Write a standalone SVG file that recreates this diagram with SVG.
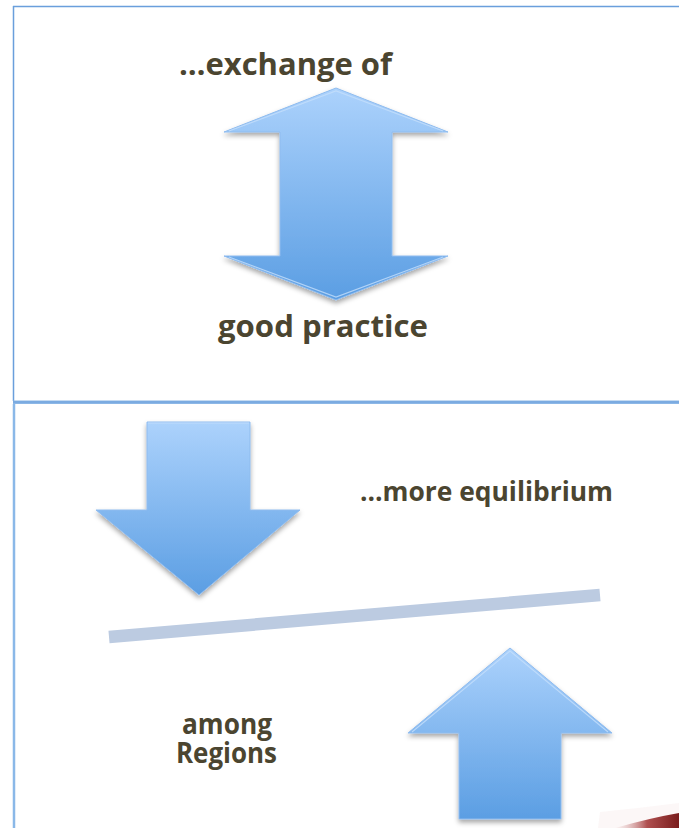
<svg xmlns="http://www.w3.org/2000/svg" width="679" height="828" viewBox="0 0 679 828">
<style>
.lbl{font-family:"Open Sans","Liberation Sans",sans-serif;font-weight:700;fill:#4b4530}
.arrow{fill:url(#blue);stroke:#8fbcef;stroke-width:1;filter:url(#shadow)}
.bevel{fill:none;stroke:#c4defb;stroke-width:1.2;opacity:0.8}
.frame{stroke:#6a9fdc;fill:none}
</style>
<defs>
<linearGradient id="blue" x1="0" y1="0" x2="0" y2="1">
<stop offset="0" stop-color="#acd2fc"/>
<stop offset="1" stop-color="#5b9ee3"/>
</linearGradient>
<linearGradient id="red" x1="0" y1="0" x2="1" y2="0">
<stop offset="0" stop-color="#f4e6e6" stop-opacity="0.3"/>
<stop offset="0.5" stop-color="#b05050"/>
<stop offset="1" stop-color="#7a1c1c"/>
</linearGradient>
<filter id="shadow" x="-20%" y="-20%" width="140%" height="140%">
<feDropShadow dx="0" dy="3" stdDeviation="2.5" flood-color="#000" flood-opacity="0.35"/>
</filter>
</defs>
<g id="panels">
<line class="frame" x1="13.5" y1="6" x2="13.5" y2="401" stroke-width="1.5"/>
<line class="frame" x1="13" y1="6.5" x2="679" y2="6.5" stroke-width="1.5"/>
<rect x="13" y="400.5" width="666" height="3.5" fill="#8cb7e6"/>
<line x1="13" y1="402" x2="679" y2="402" stroke="#6a9fdc" stroke-width="1.2"/>
<line x1="14" y1="404" x2="14" y2="828" stroke="#8ab8e8" stroke-width="2.5"/>
</g>
<g id="connectors">
<g id="double-arrow">
<path class="arrow" d="M336,88 L448,132 L392,132 L392,256 L448,256 L336,300 L224,256 L280,256 L280,132 L224,132 Z"/>
<path class="bevel" d="M229,131 L336,91 L443,131 M229,257 L336,297 L443,257"/>
</g>
<g id="down-arrow">
<path class="arrow" d="M147,422 L250,422 L250,510 L300,510 L199,595 L96,510 L147,510 Z"/>
<path class="bevel" d="M148,423 L249,423"/>
</g>
<g id="up-arrow">
<path class="arrow" d="M510,648 L612,733 L561,733 L561,819 L459,819 L459,733 L408,733 Z"/>
<path class="bevel" d="M412,732 L510,651 L608,732"/>
</g>
</g>
<g id="balance-line">
<line x1="109" y1="637" x2="600" y2="595" stroke="#bccbe1" stroke-width="12.5"/>
</g>
<g id="label-exchange"><text class="lbl" x="179" y="75" font-size="30" textLength="213" lengthAdjust="spacingAndGlyphs">…exchange of</text></g>
<g id="label-good-practice"><text class="lbl" x="218" y="337" font-size="30" textLength="210" lengthAdjust="spacingAndGlyphs">good practice</text></g>
<g id="label-equilibrium"><text class="lbl" x="360" y="501" font-size="26" textLength="253" lengthAdjust="spacingAndGlyphs">…more equilibrium</text></g>
<g id="label-among">
<text class="lbl" x="182" y="734" font-size="28" textLength="90" lengthAdjust="spacingAndGlyphs">among</text>
<text class="lbl" x="176" y="763" font-size="28" textLength="101" lengthAdjust="spacingAndGlyphs">Regions</text>
</g>
<g id="corner-fragment">
<path d="M598,828 L600,812 Q640,808 679,803 L679,828 Z" fill="#fbf4f4" opacity="0.7"/>
<path d="M615,828 Q650,818 679,813 L679,828 Z" fill="url(#red)"/>
</g>
</svg>
